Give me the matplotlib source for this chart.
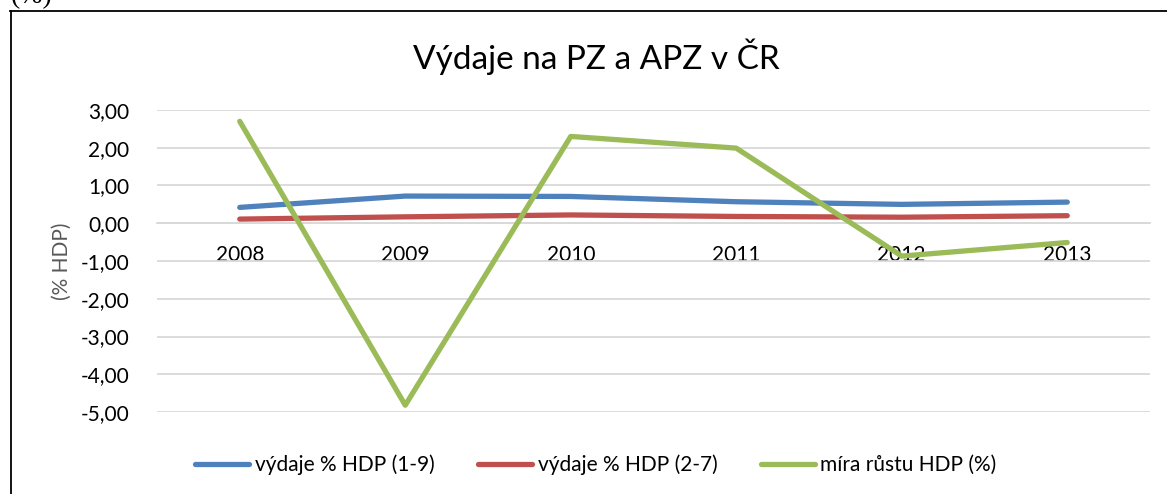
import matplotlib
matplotlib.use("Agg")
import matplotlib.pyplot as plt
from matplotlib.lines import Line2D

years = ["2008", "2009", "2010", "2011", "2012", "2013"]
vydaje_1_9 = [0.42, 0.72, 0.71, 0.57, 0.50, 0.56]
vydaje_2_7 = [0.11, 0.17, 0.22, 0.18, 0.16, 0.20]
rust_hdp = [2.70, -4.82, 2.30, 1.99, -0.87, -0.51]
y_ticks = [3, 2, 1, 0, -1, -2, -3, -4, -5]

series_labels = ["výdaje % HDP (1-9)", "výdaje % HDP (2-7)", "míra růstu HDP (%)"]
colors = ["#4F81BD", "#C0504D", "#9BBB59"]

plt.rcParams['font.family'] = ['Lato', 'DejaVu Sans']

W, H = 1167, 494
fig = plt.figure(figsize=(W / 100, H / 100), dpi=100)

def fx(px):
    return px / W

def fy(py):
    return 1 - py / H

ax = fig.add_axes([fx(157), fy(412), fx(1150) - fx(157), fy(110) - fy(412)])

x = list(range(len(years)))
for vals, c, lab in zip([vydaje_1_9, vydaje_2_7, rust_hdp], colors, series_labels):
    ax.plot(x, vals, color=c, lw=3.8, solid_capstyle='round', solid_joinstyle='round',
            label=lab, zorder=3)

ax.set_xlim(-0.5, len(years) - 0.5)
ax.set_ylim(-5, 3)
ax.set_yticks(y_ticks)
ax.set_yticklabels([f"{v:.2f}".replace('.', ',') for v in y_ticks])
ax.yaxis.grid(True, color='#D9D9D9', lw=1.3, zorder=0)
ax.set_axisbelow(True)
for s in ['top', 'right', 'left']:
    ax.spines[s].set_visible(False)
ax.spines['bottom'].set_position(('data', 0))
ax.spines['bottom'].set_color('#D9D9D9')
ax.spines['bottom'].set_linewidth(1.3)
ax.set_xticks(x)
ax.set_xticklabels(years)
ax.tick_params(axis='x', length=0, pad=16, labelsize=15, colors='black')
ax.tick_params(axis='y', length=0, pad=20, labelsize=15, colors='black')
ax.set_ylabel("(% HDP)", fontsize=15, color='#595959', labelpad=6)

fig.text(fx(596), fy(57), "Výdaje na PZ a APZ v ČR", ha='center', va='center',
         fontsize=24, color='black')

handles = [Line2D([0], [0], color=c, lw=3.8, solid_capstyle='round') for c in colors]
fig.legend(handles, series_labels, loc='center', bbox_to_anchor=(fx(596), fy(465)), ncol=3,
           frameon=False, fontsize=15, handlelength=2.6, handletextpad=0.25, columnspacing=2.1)

# outer frame (partially cut off)
fig.add_artist(Line2D([fx(10.5), fx(10.5)], [fy(11.5), fy(500)], color='black', lw=1.3,
                      transform=fig.transFigure))
fig.add_artist(Line2D([fx(10), fx(1170)], [fy(11.5), fy(11.5)], color='black', lw=1.3,
                      transform=fig.transFigure))
fig.text(fx(11), fy(3), "(%)", ha='left', va='baseline', fontsize=20,
         family=['Liberation Serif', 'DejaVu Serif'])

fig.savefig("out.png", dpi=100, facecolor='white')
